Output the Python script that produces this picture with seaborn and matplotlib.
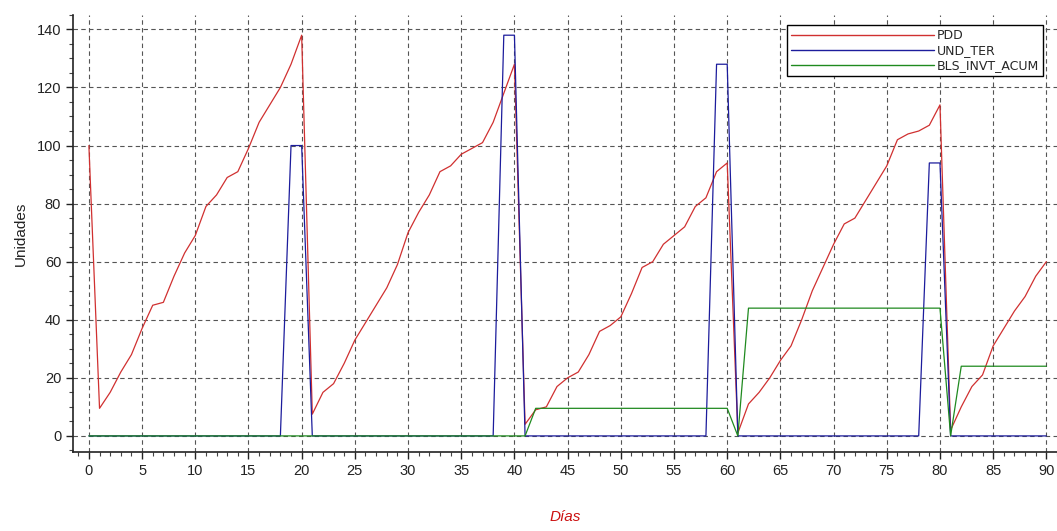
import numpy as np
import pandas as pd
import matplotlib
matplotlib.use("Agg")
import matplotlib.pyplot as plt
import seaborn as sns
from matplotlib.ticker import MultipleLocator

# datos (un valor por dia, 0..90)
dias = list(range(91))

pdd = [100, 9.5, 15, 22, 28, 37, 45, 46, 55, 63,
       69, 79, 83, 89, 91, 99, 108, 114, 120, 128,
       138, 7.5, 15, 18, 25, 33, 39, 45, 51, 59,
       70, 77, 83, 91, 93, 97, 99, 101, 108, 118,
       128, 4, 9, 10, 17, 20, 22, 28, 36, 38,
       41, 49, 58, 60, 66, 69, 72, 79, 82, 91,
       94, 1, 11, 15, 20, 26, 31, 40, 50, 58,
       66, 73, 75, 81, 87, 93, 102, 104, 105, 107,
       114, 2, 10, 17, 21, 31, 37, 43, 48, 55,
       60]

und_ter = [0] * 19 + [100, 100] + [0] * 18 + [138, 138] + [0] * 18 + \
          [128, 128] + [0] * 18 + [94, 94] + [0] * 10

bls_invt_acum = [0] * 42 + [9.5] * 19 + [0] + [44] * 19 + [0] + [24] * 9

series = ["PDD", "UND_TER", "BLS_INVT_ACUM"]
colores = ["#d03030", "#1c1c9c", "#1f8a1f"]

df = pd.DataFrame({
    "dia": dias * 3,
    "valor": pdd + und_ter + bls_invt_acum,
    "serie": [series[0]] * 91 + [series[1]] * 91 + [series[2]] * 91,
})

sns.set_style("white")
plt.rcParams["font.family"] = ["Liberation Sans", "DejaVu Sans"]

fig = plt.figure(figsize=(10.57, 5.31), dpi=100)
ax = fig.add_axes([0.069, 0.149, 0.931, 0.823])

sns.lineplot(data=df, x="dia", y="valor", hue="serie", hue_order=series,
             palette=colores, linewidth=0.9, ax=ax, legend=False)

ax.set_xlim(-1.5, 91)
ax.set_ylim(-5.5, 145)
ax.xaxis.set_major_locator(MultipleLocator(5))
ax.xaxis.set_minor_locator(MultipleLocator(1))
ax.yaxis.set_major_locator(MultipleLocator(20))
ax.yaxis.set_minor_locator(MultipleLocator(5))
ax.tick_params(which="major", direction="out", length=5, width=1,
               labelsize=10.5, colors="#222222", bottom=True, left=True)
ax.tick_params(which="minor", direction="out", length=3, width=0.8,
               bottom=True, left=True, colors="#444444")

ax.grid(True, which="major", color="#555555", linestyle=(0, (4, 3)), linewidth=0.8)
ax.set_axisbelow(True)
for s in ["top", "right"]:
    ax.spines[s].set_visible(False)
for s in ["left", "bottom"]:
    ax.spines[s].set_color("#222222")
    ax.spines[s].set_linewidth(1.2)

ax.set_ylabel("Unidades", fontsize=11, color="#222222", labelpad=6)
ax.set_xlabel("Días", fontsize=11, color="#cc1111", style="italic", labelpad=23)

handles = [plt.Line2D([], [], color=c, linewidth=1.0) for c in colores]
leg = ax.legend(handles, series, loc="upper right", bbox_to_anchor=(0.992, 0.99),
                fontsize=9, handlelength=11.5, handletextpad=0.2,
                labelspacing=0.15, borderpad=0.3, fancybox=False,
                framealpha=1, edgecolor="black",
                prop={"family": "DejaVu Sans", "size": 9})
leg.get_frame().set_linewidth(1.0)

fig.savefig("out.png", dpi=100)
